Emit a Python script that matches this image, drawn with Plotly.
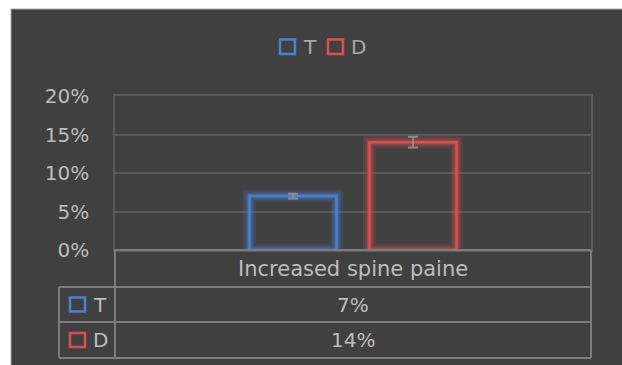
import plotly.graph_objects as go

# ---- data ----
categories = ["Increased spine paine"]
series_names = ["T", "D"]
values_T = [0.07]
values_D = [0.14]
errors_T = [0.003]
errors_D = [0.007]
tick_vals = [0, 0.05, 0.10, 0.15, 0.20]
tick_labels = ["0%", "5%", "10%", "15%", "20%"]

colors = ["#4a80d4", "#dc4f4f"]
glow = ["rgba(74,128,212,{a})", "rgba(220,79,79,{a})"]
text_color = "#bdbdbd"
font_family = "DejaVu Sans"

W, H = 622, 365
L, R, T, B = 115, 591, 96, 250  # plot area pixels


def X(px):
    return (px - L) / (R - L)


def Y(py):
    return (B - py) / (B - T)


fig = go.Figure()
series = [(values_T, errors_T), (values_D, errors_D)]

# glow layers
for i, (vals, errs) in enumerate(series):
    for w, a in [(13, 0.14), (9, 0.2), (5, 0.3)]:
        fig.add_trace(go.Bar(
            x=categories, y=vals, offsetgroup=series_names[i],
            marker=dict(color="rgba(0,0,0,0)",
                        line=dict(color=glow[i].format(a=a), width=w)),
            showlegend=False, hoverinfo="skip"))

# main bars
for i, (vals, errs) in enumerate(series):
    fig.add_trace(go.Bar(
        x=categories, y=vals, name=series_names[i], offsetgroup=series_names[i],
        marker=dict(color="rgba(0,0,0,0)", line=dict(color=colors[i], width=2.5)),
        error_y=dict(type="data", array=errs, color="#8c8c8c", thickness=2, width=5),
        showlegend=False))

shapes = []
# dark background panel
shapes.append(dict(type="rect", xref="paper", yref="paper", layer="below",
                   x0=X(11), x1=X(623), y0=Y(366), y1=Y(9),
                   fillcolor="#404040", line=dict(color="#a8a8a8", width=1)))

line_c = "#7c7c7c"


def hline(py, x0, x1):
    shapes.append(dict(type="line", xref="paper", yref="paper",
                       x0=X(x0), x1=X(x1), y0=Y(py), y1=Y(py),
                       line=dict(color=line_c, width=2)))


def vline(px, y0, y1):
    shapes.append(dict(type="line", xref="paper", yref="paper",
                       x0=X(px), x1=X(px), y0=Y(y0), y1=Y(y1),
                       line=dict(color=line_c, width=2)))


# table grid
hline(250, 115, 591)
hline(287, 59, 591)
hline(322, 59, 591)
hline(358, 59, 591)
vline(115, 250, 358)
vline(591, 250, 358)
vline(59, 287, 358)

annotations = []
annotations.append(dict(text=categories[0], xref="paper", yref="paper",
                        x=X(353), y=Y(268.5), xanchor="center", yanchor="middle",
                        showarrow=False, font=dict(size=21, color=text_color, family=font_family)))
row_y = [304.5, 340]
row_vals = [values_T[0], values_D[0]]
for i in range(2):
    annotations.append(dict(text=f"{row_vals[i]*100:.0f}%", xref="paper", yref="paper",
                            x=X(353), y=Y(row_y[i]), xanchor="center", yanchor="middle",
                            showarrow=False, font=dict(size=20, color=text_color, family=font_family)))
    # row legend key
    shapes.append(dict(type="rect", xref="paper", yref="paper",
                       x0=X(70), x1=X(85), y0=Y(row_y[i] + 7), y1=Y(row_y[i] - 7),
                       line=dict(color=colors[i], width=2.5), fillcolor="rgba(0,0,0,0)"))
    annotations.append(dict(text=series_names[i], xref="paper", yref="paper",
                            x=X(91), y=Y(row_y[i]), xanchor="left", yanchor="middle",
                            showarrow=False, font=dict(size=20, color=text_color, family=font_family)))

# top legend
leg_sq = [280, 328]
leg_tx = [301, 349]
for i in range(2):
    shapes.append(dict(type="rect", xref="paper", yref="paper",
                       x0=X(leg_sq[i]), x1=X(leg_sq[i] + 15), y0=Y(54), y1=Y(39.5),
                       line=dict(color=colors[i], width=2.5), fillcolor="rgba(0,0,0,0)"))
    annotations.append(dict(text=series_names[i], xref="paper", yref="paper",
                            x=X(leg_tx[i]), y=Y(46.5), xanchor="left", yanchor="middle",
                            showarrow=False, font=dict(size=20, color="#a8a8a8", family=font_family)))

fig.update_layout(
    width=W, height=H,
    margin=dict(l=L, r=W - R, t=T, b=H - B, pad=0),
    paper_bgcolor="white",
    plot_bgcolor="rgba(0,0,0,0)",
    barmode="group", bargap=0.496, bargroupgap=0.275,
    shapes=shapes, annotations=annotations,
    showlegend=False,
    font=dict(family=font_family, color=text_color, size=20),
    xaxis=dict(showticklabels=False, showgrid=False, zeroline=False,
               showline=True, mirror=True, linecolor="#5a5a5a", linewidth=1.5,
               ticks=""),
    yaxis=dict(range=[0, 0.2], tickvals=tick_vals, ticktext=tick_labels,
               showgrid=True, gridcolor="#5a5a5a", gridwidth=1.5, zeroline=False,
               showline=True, mirror=True, linecolor="#5a5a5a", linewidth=1.5,
               ticks="", ticklabelstandoff=20,
               tickfont=dict(size=20, color=text_color, family=font_family)),
)

fig.write_html("out.html")
